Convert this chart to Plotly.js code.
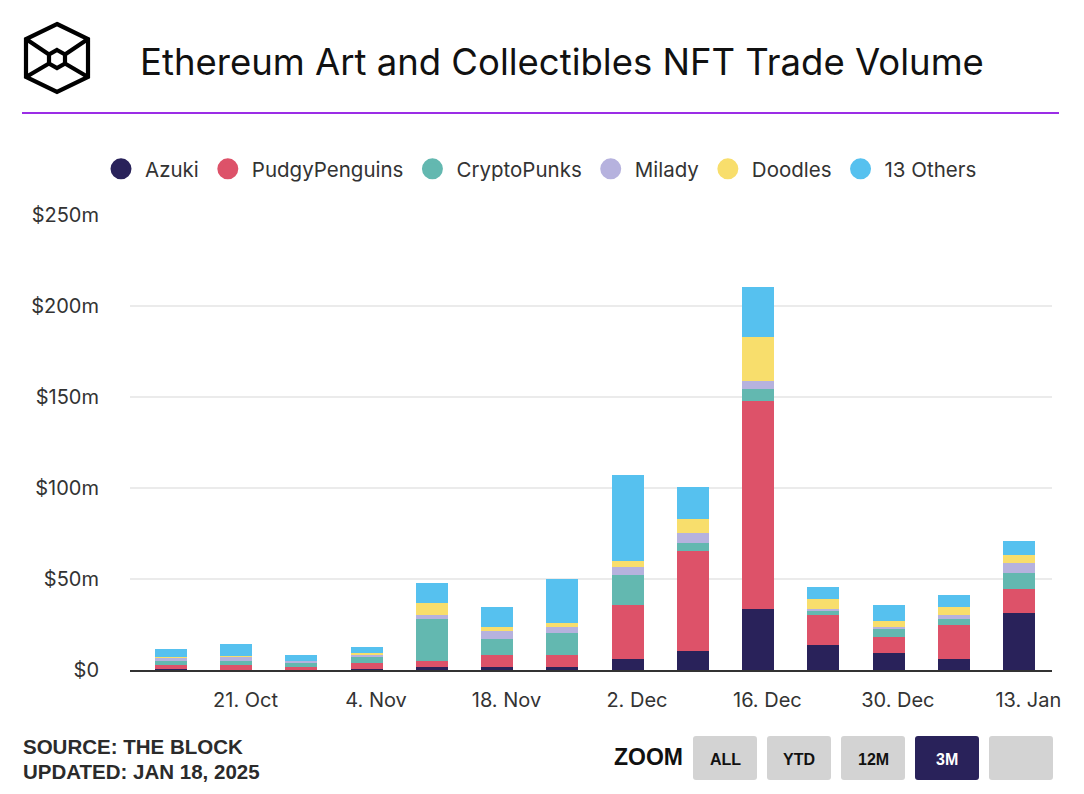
<!DOCTYPE html>
<html>
<head>
<meta charset="utf-8">
<script src="https://cdn.plot.ly/plotly-3.0.1.min.js"></script>
<style>
  html, body { margin: 0; padding: 0; background: #ffffff; }
  #chart { width: 1084px; height: 794px; }
</style>
</head>
<body>
<div id="chart"></div>
<script>
// ---- Data (USD millions, weekly) ----
const weeks = ["2024-10-13","2024-10-20","2024-10-27","2024-11-03","2024-11-10","2024-11-17","2024-11-24",
               "2024-12-01","2024-12-08","2024-12-15","2024-12-22","2024-12-29","2025-01-05","2025-01-12"];
const azuki         = [0.5, 0.2, 0.2, 0.5, 1.6, 1.6, 1.6, 6.0, 10.4, 33.5, 13.7, 9.3, 6.0, 31.3];
const pudgyPenguins = [2.2, 2.7, 1.6, 3.3, 3.3, 6.6, 6.6, 29.7, 54.9, 114.3, 16.5, 8.8, 18.7, 13.2];
const cryptoPunks   = [2.2, 2.2, 2.2, 3.3, 23.1, 8.8, 12.1, 16.5, 4.4, 6.6, 2.2, 4.4, 3.3, 8.8];
const milady        = [2.2, 2.2, 1.1, 1.1, 2.2, 4.4, 3.3, 4.4, 5.5, 4.4, 1.1, 1.1, 2.2, 5.5];
const doodles       = [0.2, 0.2, 0.1, 1.1, 6.6, 2.2, 2.2, 3.3, 7.7, 24.2, 5.5, 3.3, 4.4, 4.4];
const others        = [4.4, 6.6, 3.3, 3.3, 11.0, 11.0, 24.2, 47.3, 17.6, 27.5, 6.6, 8.8, 6.6, 7.7];

const seriesNames  = ["Azuki", "PudgyPenguins", "CryptoPunks", "Milady", "Doodles", "13 Others"];
const seriesValues = [azuki, pudgyPenguins, cryptoPunks, milady, doodles, others];
const seriesColors = ["#29225a", "#dd5269", "#63b8b0", "#b6b2de", "#f8de6c", "#56c1ef"];

const xTickVals = ["2024-10-21","2024-11-04","2024-11-18","2024-12-02","2024-12-16","2024-12-30","2025-01-13"];
const xTickText = ["21. Oct","4. Nov","18. Nov","2. Dec","16. Dec","30. Dec","13. Jan"];
const yTickVals = [0, 50, 100, 150, 200, 250];
const yTickText = ["$0","$50m","$100m","$150m","$200m","$250m"];

const titleText = "Ethereum Art and Collectibles NFT Trade Volume";
const sourceText = "SOURCE: THE BLOCK";
const updatedText = "UPDATED: JAN 18, 2025";
const zoomButtons = ["ALL", "YTD", "12M", "3M", ""];
const activeButton = "3M";

// ---- Geometry helpers (plot area: x 130..1052, y 215..670) ----
const PL = 130, PR = 1052, PT = 215, PB = 670;
const PW = PR - PL, PH = PB - PT;
const X = p => (p - PL) / PW;
const Y = p => (PB - p) / PH;
const pt = (x, y) => X(x).toFixed(5) + "," + Y(y).toFixed(5);

function roundRect(x0, y0, x1, y1, r) {
  return "M" + pt(x0 + r, y0) + " L" + pt(x1 - r, y0) + " Q" + pt(x1, y0) + " " + pt(x1, y0 + r) +
         " L" + pt(x1, y1 - r) + " Q" + pt(x1, y1) + " " + pt(x1 - r, y1) +
         " L" + pt(x0 + r, y1) + " Q" + pt(x0, y1) + " " + pt(x0, y1 - r) +
         " L" + pt(x0, y0 + r) + " Q" + pt(x0, y0) + " " + pt(x0 + r, y0) + " Z";
}

const DAY = 86400000;
const barWidth = 3.44 * DAY;

const traces = [];
seriesNames.forEach((name, i) => {
  traces.push({
    type: "bar", x: weeks, y: seriesValues[i], name: name,
    marker: { color: seriesColors[i], line: { width: 0 } },
    width: barWidth, showlegend: false, hoverinfo: "x+y+name"
  });
});
// legend entries with round symbols
seriesNames.forEach((name, i) => {
  traces.push({
    type: "scatter", mode: "markers", x: [null], y: [null], name: name,
    marker: { color: seriesColors[i], size: 16, symbol: "circle", line: { color: seriesColors[i], width: 5 } },
    showlegend: true, hoverinfo: "skip"
  });
});

// ---- Decorations ----
const shapes = [];
shapes.push({ type: "line", xref: "paper", yref: "paper", x0: X(22), x1: X(1059), y0: Y(113), y1: Y(113),
              line: { color: "#9b2de6", width: 2 } });
const outer = [[57,24],[88,39],[88,77],[57,92],[26,77],[26,39]];
const inner = [[57,50],[65,54.5],[65,63.5],[57,68],[49,63.5],[49,54.5]];
let logoPath = "M" + outer.map(p => pt(p[0], p[1])).join(" L") + " Z ";
logoPath += "M" + inner.map(p => pt(p[0], p[1])).join(" L") + " Z ";
logoPath += "M" + pt(26,39) + " L" + pt(49,54.5) + " M" + pt(88,39) + " L" + pt(65,54.5) +
            " M" + pt(26,77) + " L" + pt(49,63.5) + " M" + pt(88,77) + " L" + pt(65,63.5);
shapes.push({ type: "path", xref: "paper", yref: "paper", path: logoPath, line: { color: "#000000", width: 4.2 } });

const btnX = [693, 767, 841, 915, 989];
const btnW = 64, btnTop = 736, btnBot = 780;
const annotations = [];
zoomButtons.forEach((label, i) => {
  const active = label === activeButton;
  shapes.push({ type: "path", xref: "paper", yref: "paper",
    path: roundRect(btnX[i], btnTop, btnX[i] + btnW, btnBot, 3),
    fillcolor: active ? "#29225a" : "#d3d3d3", line: { width: 0 } });
  if (label) {
    annotations.push({ xref: "paper", yref: "paper", x: X(btnX[i] + btnW / 2), y: Y(759),
      xanchor: "center", yanchor: "middle", showarrow: false, text: "<b>" + label + "</b>",
      font: { family: "Liberation Sans, Arial, sans-serif", size: 16, color: active ? "#ffffff" : "#111111" } });
  }
});
annotations.push({ xref: "paper", yref: "paper", x: X(612), y: Y(757), xanchor: "left", yanchor: "middle",
  showarrow: false, text: "<b>ZOOM</b>", font: { family: "Liberation Sans, Arial, sans-serif", size: 23, color: "#111111" } });
annotations.push({ xref: "paper", yref: "paper", x: X(21), y: Y(746), xanchor: "left", yanchor: "middle",
  showarrow: false, text: "<b>" + sourceText + "</b>", font: { family: "Liberation Sans, Arial, sans-serif", size: 20.5, color: "#2b2b2b" } });
annotations.push({ xref: "paper", yref: "paper", x: X(21), y: Y(771), xanchor: "left", yanchor: "middle",
  showarrow: false, text: "<b>" + updatedText + "</b>", font: { family: "Liberation Sans, Arial, sans-serif", size: 20.5, color: "#2b2b2b" } });

const layout = {
  width: 1084, height: 794,
  margin: { l: PL, r: 1084 - PR, t: PT, b: 794 - PB, pad: 0 },
  paper_bgcolor: "#ffffff", plot_bgcolor: "#ffffff",
  barmode: "stack",
  font: { family: "Inter, 'Noto Sans', sans-serif", color: "#333333" },
  title: { text: titleText, xref: "container", yref: "container", x: 140 / 1084, y: 1 - 62 / 794,
           xanchor: "left", yanchor: "middle", font: { family: "Inter, sans-serif", size: 36.5, color: "#111111" } },
  xaxis: {
    type: "date",
    range: ["2024-10-08 14:24", "2025-01-15 13:00"],
    tickvals: xTickVals, ticktext: xTickText,
    ticks: "", ticklabelstandoff: 11,
    showgrid: false, zeroline: false,
    showline: true, linecolor: "#333333", linewidth: 2,
    tickfont: { family: "Inter, sans-serif", size: 20, color: "#333333" },
    fixedrange: true
  },
  yaxis: {
    range: [0, 250],
    tickvals: yTickVals, ticktext: yTickText,
    ticks: "", ticklabelstandoff: 30,
    showgrid: true, gridcolor: "#ebebeb", gridwidth: 2,
    zeroline: false, showline: false,
    tickfont: { family: "Inter, sans-serif", size: 20, color: "#333333" },
    fixedrange: true
  },
  showlegend: true,
  legend: {
    orientation: "h", traceorder: "normal", x: X(97), y: Y(169), xanchor: "left", yanchor: "middle",
    font: { family: "Inter, sans-serif", size: 20.5, color: "#333333" },
    itemsizing: "trace", itemwidth: 38, itemclick: false, itemdoubleclick: false,
    bgcolor: "rgba(0,0,0,0)"
  },
  shapes: shapes,
  annotations: annotations,
  hovermode: "closest"
};

Plotly.newPlot("chart", traces, layout, { displayModeBar: false, responsive: false });
</script>
</body>
</html>
